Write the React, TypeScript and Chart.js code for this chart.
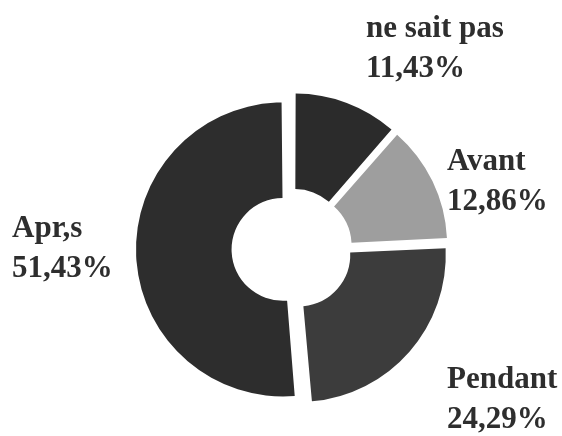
import React, { useEffect, useRef } from "react";
import { Chart, registerables } from "chart.js";

Chart.register(...registerables);

const categories = ["ne sait pas", "Avant", "Pendant", "Apr,s"];
const percentValues = [11.43, 12.86, 24.29, 51.43];
const sliceColors = ["#2b2b2b", "#9e9e9e", "#3c3c3c", "#2d2d2d"];
// label anchor (left x, first-line baseline y) in canvas pixels
const labelX = [366, 447, 447, 12];
const labelY = [37, 170, 388, 237];

const fmt = (v: number) => v.toFixed(2).replace(".", ",") + "%";

const radiusFix = {
  id: "radiusFix",
  afterDatasetsUpdate(chart: any) {
    const meta = chart.getDatasetMeta(0);
    meta.data.forEach((arc: any) => {
      const off = ((arc.options && arc.options.offset) || 0) / 4;
      const fix = 1 - Math.sin(Math.min(Math.PI, arc.circumference || 0));
      arc.outerRadius -= off * fix;
      arc.innerRadius -= off * fix;
    });
  },
};

const labelPlugin = {
  id: "sliceLabels",
  afterDraw(chart: any) {
    const ctx = chart.ctx;
    ctx.save();
    ctx.fillStyle = "#2e2e2e";
    ctx.font = 'bold 31px "Liberation Serif", "Times New Roman", serif';
    ctx.textAlign = "left";
    ctx.textBaseline = "alphabetic";
    categories.forEach((c, i) => {
      ctx.fillText(c, labelX[i], labelY[i]);
      ctx.fillText(fmt(percentValues[i]), labelX[i], labelY[i] + 40);
    });
    ctx.restore();
  },
};

export default function App() {
  const ref = useRef<HTMLCanvasElement>(null);
  useEffect(() => {
    if (!ref.current) return;
    const chart = new Chart(ref.current, {
      type: "doughnut",
      data: {
        labels: categories,
        datasets: [
          {
            data: percentValues,
            backgroundColor: sliceColors,
            borderWidth: 0,
            offset: 36,
            hoverOffset: 0,
          },
        ],
      },
      options: {
        animation: false,
        responsive: true,
        maintainAspectRatio: false,
        radius: 147,
        cutout: "35%",
        rotation: 0,
        layout: { padding: { left: 22, right: 0, top: 62, bottom: 0 } },
        plugins: {
          legend: { display: false },
          tooltip: { enabled: false },
        },
      } as any,
      plugins: [radiusFix, labelPlugin],
    });
    return () => chart.destroy();
  }, []);
  return (
    <div
      style={{
        position: "fixed",
        left: 0,
        top: 0,
        width: 562,
        height: 436,
        background: "#ffffff",
      }}
    >
      <canvas ref={ref} />
    </div>
  );
}
